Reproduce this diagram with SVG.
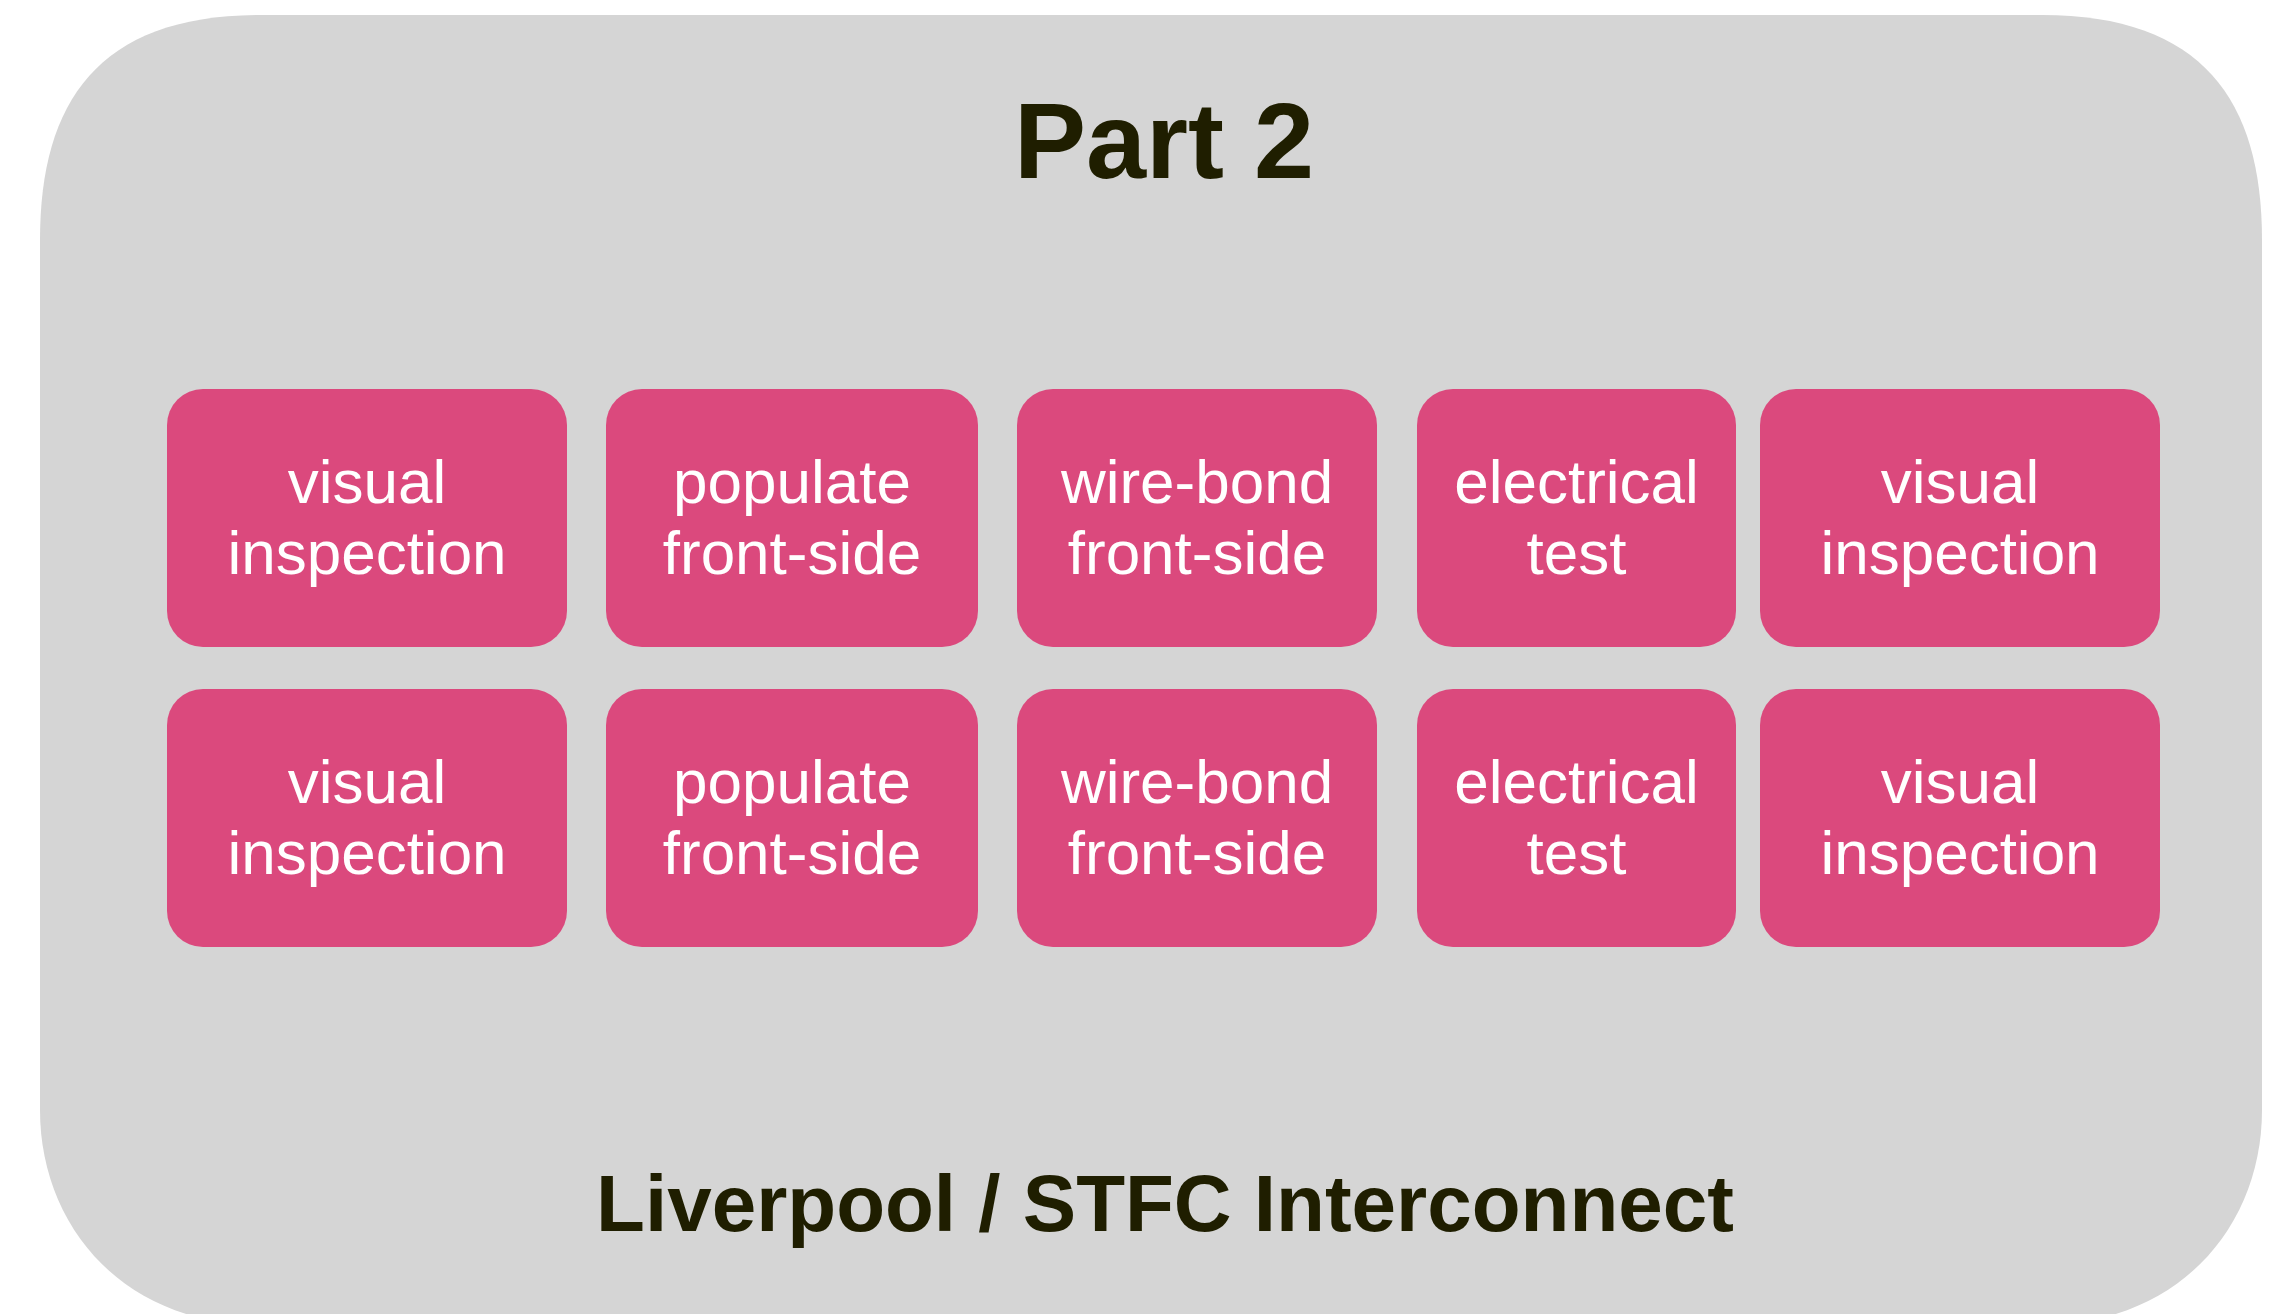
<svg xmlns="http://www.w3.org/2000/svg" width="2280" height="1314" viewBox="0 0 2280 1314">
<style>
.bg{fill:#ffffff}
.panel{fill:#d5d5d5}
.node rect{fill:#db497d}
.node text{fill:#ffffff;font-family:"Liberation Sans",Arial,sans-serif;font-size:62px;text-anchor:middle}
.title{fill:#1f1e00;font-family:"Liberation Sans",Arial,sans-serif;font-weight:bold;text-anchor:middle}
</style>
<rect class="bg" x="0" y="0" width="2280" height="1314"/>
<g id="panel">
<path class="panel" d="M40,240 C40,100 100,15 260,15 L2042,15 C2202,15 2262,100 2262,240 L2262,1110 C2262,1225 2180,1325 2040,1325 L262,1325 C122,1325 40,1225 40,1110 Z"/>
<text class="title" x="1164" y="178" font-size="108">Part 2</text>
<text class="title" x="1165" y="1231" font-size="80">Liverpool / STFC Interconnect</text>
</g>
<g id="connectors"></g>
<g id="n1" class="node"><rect x="167" y="389" width="400" height="258" rx="36"/><text x="367" y="503">visual</text><text x="367" y="574">inspection</text></g>
<g id="n2" class="node"><rect x="606" y="389" width="372" height="258" rx="36"/><text x="792" y="503">populate</text><text x="792" y="574">front-side</text></g>
<g id="n3" class="node"><rect x="1017" y="389" width="360" height="258" rx="36"/><text x="1197" y="503">wire-bond</text><text x="1197" y="574">front-side</text></g>
<g id="n4" class="node"><rect x="1417" y="389" width="319" height="258" rx="36"/><text x="1576.5" y="503">electrical</text><text x="1576.5" y="574">test</text></g>
<g id="n5" class="node"><rect x="1760" y="389" width="400" height="258" rx="36"/><text x="1960" y="503">visual</text><text x="1960" y="574">inspection</text></g>
<g id="n6" class="node"><rect x="167" y="689" width="400" height="258" rx="36"/><text x="367" y="803">visual</text><text x="367" y="874">inspection</text></g>
<g id="n7" class="node"><rect x="606" y="689" width="372" height="258" rx="36"/><text x="792" y="803">populate</text><text x="792" y="874">front-side</text></g>
<g id="n8" class="node"><rect x="1017" y="689" width="360" height="258" rx="36"/><text x="1197" y="803">wire-bond</text><text x="1197" y="874">front-side</text></g>
<g id="n9" class="node"><rect x="1417" y="689" width="319" height="258" rx="36"/><text x="1576.5" y="803">electrical</text><text x="1576.5" y="874">test</text></g>
<g id="n10" class="node"><rect x="1760" y="689" width="400" height="258" rx="36"/><text x="1960" y="803">visual</text><text x="1960" y="874">inspection</text></g>
</svg>
